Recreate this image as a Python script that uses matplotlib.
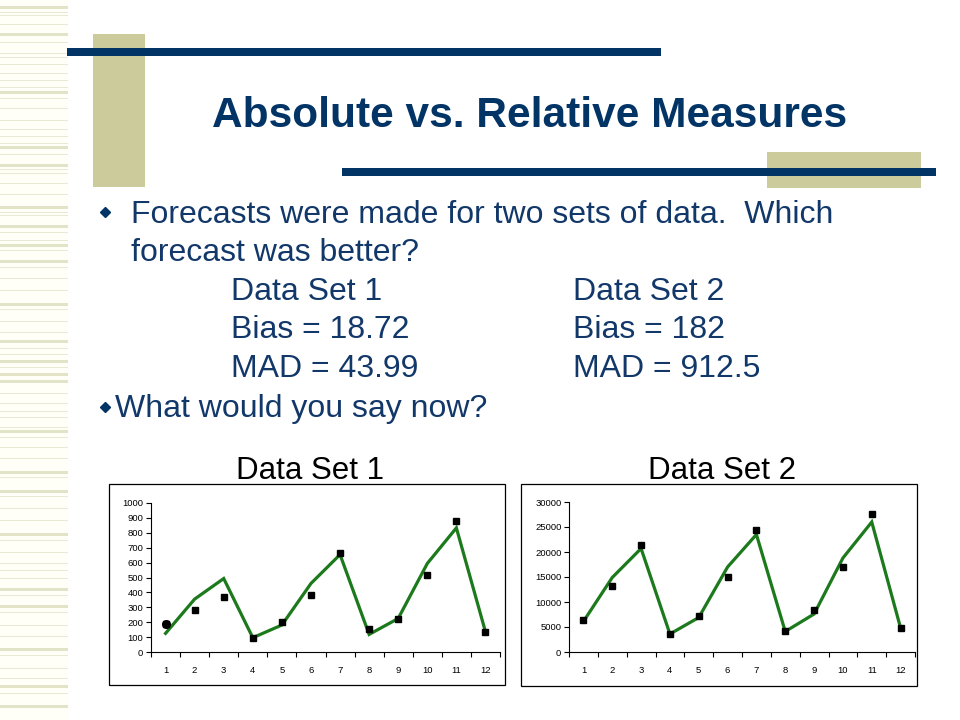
import matplotlib
matplotlib.use("Agg")
import matplotlib.pyplot as plt
from matplotlib.patches import Rectangle

plt.rcParams['font.family'] = ['Liberation Sans', 'DejaVu Sans']

# ---------------- data ----------------
periods = list(range(1, 13))
period_labels = [str(p) for p in periods]

ds1_forecast = [125, 355, 493, 96, 181, 460, 654, 118, 225, 594, 833, 136]
ds1_actual = [185, 281, 368, 96, 201, 382, 663, 154, 223, 518, 882, 134]
ds1_yticks = [0, 100, 200, 300, 400, 500, 600, 700, 800, 900, 1000]

ds2_forecast = [6100, 14900, 20700, 3600, 6900, 17000, 23500, 4100, 7600, 18800, 26000, 4800]
ds2_actual = [6450, 13150, 21350, 3650, 7250, 15000, 24350, 4150, 8350, 16950, 27550, 4750]
ds2_yticks = [0, 5000, 10000, 15000, 20000, 25000, 30000]

title = "Absolute vs. Relative Measures"
bullet1_lines = ["Forecasts were made for two sets of data.  Which",
                 "forecast was better?"]
col1 = ["Data Set 1", "Bias = 18.72", "MAD = 43.99"]
col2 = ["Data Set 2", "Bias = 182", "MAD = 912.5"]
bullet2 = "What would you say now?"
chart_titles = ["Data Set 1", "Data Set 2"]

# ---------------- figure ----------------
W, H = 960, 720
fig = plt.figure(figsize=(9.6, 7.2), dpi=100)
bg = fig.add_axes([0, 0, 1, 1])
bg.set_xlim(0, W)
bg.set_ylim(H, 0)
bg.axis('off')

NAVY = '#023466'
BEIGE = '#CBCB9B'
TXT = '#12386A'

# left striped strip
bg.add_patch(Rectangle((0, 0), 68, H, facecolor='#FFFFF8', edgecolor='none', zorder=0))
thick = [7, 34, 92, 147, 165, 207, 226, 245, 261, 304, 341, 361, 374, 381, 431, 472,
         491, 534, 589, 606, 649, 686, 706]
thin = [12, 15, 24, 42, 53, 57, 64, 73, 80, 87, 98, 108, 120, 129, 136, 143, 154, 169,
        173, 183, 194, 212, 215, 232, 240, 250, 267, 278, 290, 309, 321, 332, 348, 354,
        367, 393, 403, 411, 417, 427, 437, 447, 458, 477, 496, 508, 520, 540, 552, 563,
        570, 578, 595, 612, 625, 636, 655, 668, 678, 693]
for y in thick:
    bg.add_patch(Rectangle((0, y - 1.5), 68, 3, facecolor='#E3E3C8', edgecolor='none', zorder=1))
for y in thin:
    bg.add_patch(Rectangle((0, y - 0.5), 68, 1, facecolor='#E9E9D6', edgecolor='none', zorder=1))

# decorative blocks and bars
bg.add_patch(Rectangle((93, 34), 52, 153, facecolor=BEIGE, edgecolor='none', zorder=2))
bg.add_patch(Rectangle((767, 152), 154, 36, facecolor=BEIGE, edgecolor='none', zorder=2))
bg.add_patch(Rectangle((67, 48), 594, 8, facecolor=NAVY, edgecolor='none', zorder=3))
bg.add_patch(Rectangle((342, 168), 594, 8, facecolor=NAVY, edgecolor='none', zorder=3))

# title
bg.text(530, 127, title, ha='center', va='baseline', fontsize=30.5,
        fontweight='bold', color=NAVY, zorder=4)

# bullet text
fs = 23
bg.plot([105], [212], marker='D', markersize=5, color=NAVY, zorder=4)
bg.text(131, 223, bullet1_lines[0], ha='left', va='baseline', fontsize=fs, color=TXT)
bg.text(131, 261, bullet1_lines[1], ha='left', va='baseline', fontsize=fs, color=TXT)
for i, (a, b) in enumerate(zip(col1, col2)):
    yb = 300 + i * 38.5
    bg.text(231, yb, a, ha='left', va='baseline', fontsize=fs, color=TXT)
    bg.text(573, yb, b, ha='left', va='baseline', fontsize=fs, color=TXT)
bg.plot([105], [407], marker='D', markersize=5, color=NAVY, zorder=4)
bg.text(115, 417, bullet2, ha='left', va='baseline', fontsize=fs, color=TXT)

# chart titles
bg.text(310, 479, chart_titles[0], ha='center', va='baseline', fontsize=22.5, color='black')
bg.text(722, 479, chart_titles[1], ha='center', va='baseline', fontsize=22.5, color='black')

# chart borders
bg.add_patch(Rectangle((109, 484), 396, 201, facecolor='white', edgecolor='black', lw=0.9, zorder=2))
bg.add_patch(Rectangle((521, 484), 396, 202, facecolor='white', edgecolor='black', lw=0.9, zorder=2))


def make_chart(x0, x1, ytop, ybot, forecast, actual, yticks, first_circle=False):
    ax = fig.add_axes([x0 / W, (H - ybot) / H, (x1 - x0) / W, (ybot - ytop) / H])
    ax.patch.set_alpha(0)
    ax.plot(periods, forecast, color='#1C7A1C', lw=2.3, zorder=3, solid_joinstyle='miter')
    ax.plot(periods, actual, linestyle='none', marker='s', markersize=4,
            color='black', zorder=4)
    if first_circle:
        ax.plot(periods[:1], actual[:1], linestyle='none', marker='o', markersize=5.5,
                color='black', zorder=5)
    ax.set_xlim(0.5, 12.5)
    ax.set_ylim(yticks[0], yticks[-1])
    ax.set_yticks(yticks)
    ax.set_yticklabels([str(t) for t in yticks])
    ax.set_xticks(periods)
    ax.set_xticklabels(period_labels)
    ax.set_xticks([p + 0.5 for p in range(0, 13)], minor=True)
    ax.tick_params(axis='x', which='major', length=0, pad=10, labelsize=6.8)
    ax.tick_params(axis='x', which='minor', length=3.5, width=0.8, direction='out')
    ax.tick_params(axis='y', which='major', length=3.5, width=0.8, direction='out',
                   pad=2, labelsize=6.8)
    for s in ['top', 'right']:
        ax.spines[s].set_visible(False)
    for s in ['left', 'bottom']:
        ax.spines[s].set_linewidth(0.8)
    return ax


make_chart(151, 500, 503, 652, ds1_forecast, ds1_actual, ds1_yticks, first_circle=True)
make_chart(569, 915, 502, 652, ds2_forecast, ds2_actual, ds2_yticks)

fig.savefig('out.png', dpi=100, facecolor='white')
